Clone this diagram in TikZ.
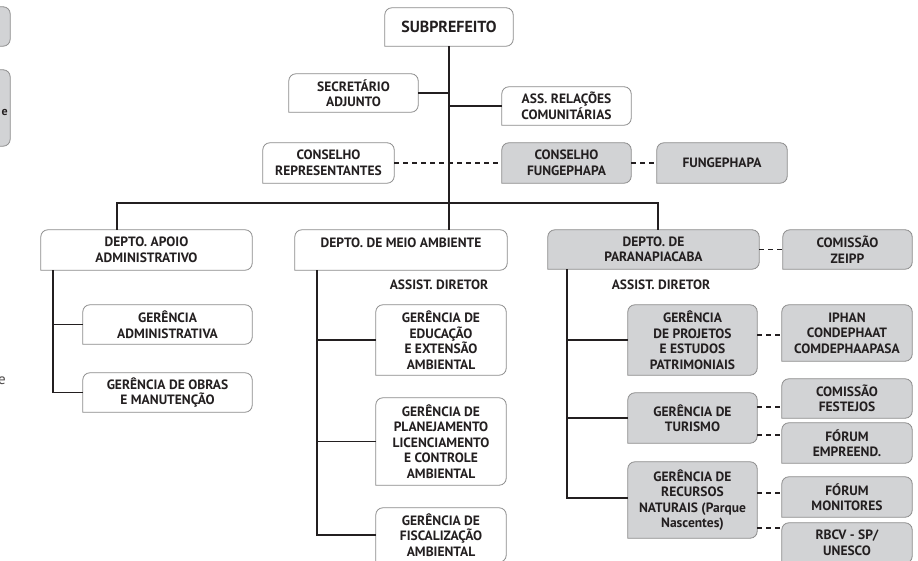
\documentclass[tikz,border=0pt]{standalone}
\usepackage{fontspec}
\setmainfont{PT Sans}
\usetikzlibrary{backgrounds}
\definecolor{textc}{HTML}{231F20}
\definecolor{boxline}{HTML}{8A8A8A}
\definecolor{grayfill}{HTML}{D2D3D5}
\def\rr{7pt}
\newcommand\orgbox[2]{%
  \path[draw=boxline, line width=0.8pt, fill=#2]
   (#1.south west) -- ([yshift=-\rr]#1.north west)
   arc[start angle=180,end angle=90,radius=\rr]
   -- ([xshift=-\rr]#1.north east)
   arc[start angle=90,end angle=0,radius=\rr]
   -- ([yshift=\rr]#1.south east)
   arc[start angle=0,end angle=-90,radius=\rr] -- cycle;}
\begin{document}
\begin{tikzpicture}[x=1pt,y=-1pt,
  bx/.style={font=\bfseries\fontsize{13.5}{15.5}\selectfont, align=center, inner sep=0pt, text=textc},
  conn/.style={draw=textc, line width=1.6pt},
  dsh/.style={draw=textc, line width=1.3pt, dash pattern=on 5pt off 4pt}]
\useasboundingbox (0,0) rectangle (918,561);

% cropped fragments at the left edge
\node[bx, minimum width=60pt, minimum height=39pt] (fragA) at (-20,26.5) {};
\node[bx, minimum width=60pt, minimum height=76pt] (fragB) at (-20,108) {};
\node[bx, anchor=east, font=\bfseries\fontsize{12}{15}\selectfont] (fragBt) at (8,113) {e};
\node[anchor=east, inner sep=0pt, text=textc!80, font=\fontsize{15}{16}\selectfont] (fragC) at (6,381) {e};

% top
\node[bx, minimum width=128pt, minimum height=38pt, font=\bfseries\fontsize{16}{18}\selectfont] (sub) at (449,27) {SUBPREFEITO};
\node[bx, minimum width=129pt, minimum height=38pt] (sec) at (353.5,93) {SECRETÁRIO\\ADJUNTO};
\node[bx, minimum width=129pt, minimum height=38pt] (ass) at (566.5,106) {ASS. RELAÇÕES\\COMUNITÁRIAS};
\node[bx, minimum width=131pt, minimum height=40pt] (crep) at (328.5,163) {CONSELHO\\REPRESENTANTES};
\node[bx, minimum width=129pt, minimum height=40pt] (cfun) at (566.5,163) {CONSELHO\\FUNGEPHAPA};
\node[bx, minimum width=130pt, minimum height=40pt] (fun) at (722,163) {FUNGEPHAPA};

% departments
\node[bx, minimum width=211pt, minimum height=40pt] (dapo) at (146.5,250) {DEPTO. APOIO\\ADMINISTRATIVO};
\node[bx, minimum width=212pt, minimum height=40pt] (dma) at (401,250) {};
\node[bx] (dmat) at (401,243) {DEPTO. DE MEIO AMBIENTE};
\node[bx, minimum width=211pt, minimum height=39pt] (dpar) at (653.5,249.5) {DEPTO. DE\\PARANAPIACABA};
\node[bx, minimum width=129pt, minimum height=39pt] (zeipp) at (847.5,249.5) {COMISSÃO\\ZEIPP};

\node[bx] (ad1) at (439,285) {ASSIST. DIRETOR};
\node[bx] (ad2) at (661,285) {ASSIST. DIRETOR};

% apoio
\node[bx, minimum width=169pt, minimum height=39pt] (gadm) at (167.5,324.5) {GERÊNCIA\\ADMINISTRATIVA};
\node[bx, minimum width=169pt, minimum height=39pt] (gobr) at (167.5,392.5) {GERÊNCIA DE OBRAS\\E MANUTENÇÃO};

% meio ambiente
\node[bx, minimum width=130pt, minimum height=70pt] (gedu) at (441,340) {GERÊNCIA DE\\EDUCAÇÃO\\E EXTENSÃO\\AMBIENTAL};
\node[bx, minimum width=130pt, minimum height=87pt] (gpla) at (441,441.5) {GERÊNCIA DE\\PLANEJAMENTO\\LICENCIAMENTO\\E CONTROLE\\AMBIENTAL};
\node[bx, minimum width=130pt, minimum height=54pt] (gfis) at (441,535) {GERÊNCIA DE\\FISCALIZAÇÃO\\AMBIENTAL};

% paranapiacaba
\node[bx, minimum width=129pt, minimum height=70pt] (gproj) at (692.5,340) {GERÊNCIA\\DE PROJETOS\\E ESTUDOS\\PATRIMONIAIS};
\node[bx, minimum width=129pt, minimum height=50pt] (gtur) at (692.5,418) {GERÊNCIA DE\\TURISMO};
\node[bx, minimum width=129pt, minimum height=76pt] (grec) at (692.5,500) {GERÊNCIA DE\\RECURSOS\\NATURAIS (Parque\\Nascentes)};
\node[bx, minimum width=130pt, minimum height=56pt] (iphan) at (847,333) {IPHAN\\CONDEPHAAT\\COMDEPHAAPASA};
\node[bx, minimum width=130pt, minimum height=39pt] (cfes) at (847,398.5) {COMISSÃO\\FESTEJOS};
\node[bx, minimum width=130pt, minimum height=40pt] (femp) at (847,443) {FÓRUM\\EMPREEND.};
\node[bx, minimum width=130pt, minimum height=40pt] (fmon) at (847,497) {FÓRUM\\MONITORES};
\node[bx, minimum width=130pt, minimum height=40pt] (rbcv) at (847,543) {RBCV - SP/\\UNESCO};

\begin{pgfonlayer}{background}
\foreach \n in {sub,sec,ass,crep,dapo,dma,gadm,gobr,gedu,gpla,gfis} {\orgbox{\n}{white}}
\foreach \n in {fragA,fragB,cfun,fun,dpar,zeipp,gproj,gtur,grec,iphan,cfes,femp,fmon,rbcv} {\orgbox{\n}{grayfill}}

% helper coordinates
\coordinate (busL) at (117,203);
\coordinate (busR) at (658,203);
\coordinate (spA) at (53,270);
\coordinate (spB) at (317,270);
\coordinate (spC) at (567,270);

% solid connectors
\draw[conn] (sub.south) -- (sub.south |- dma.north);
\draw[conn] (sec.east) -- (sec.east -| sub.south);
\draw[conn] (ass.west -| sub.south) -- (ass.west);
\draw[conn] (busL |- dapo.north) -- (busL) -- (busR) -- (busR |- dpar.north);
\draw[conn] (spA |- dapo.south) |- (gobr.west);
\draw[conn] (spA |- gadm.west) -- (gadm.west);
\draw[conn] (spB |- dma.south) |- (gfis.west);
\draw[conn] (spB |- gedu.west) -- (gedu.west);
\draw[conn] (spB |- gpla.west) -- (gpla.west);
\draw[conn] (spC |- dpar.south) |- ([yshift=2pt]grec.west);
\draw[conn] (spC |- gproj.west) -- (gproj.west);
\draw[conn] (spC |- gtur.west) -- (gtur.west);

% dashed connectors
\draw[dsh] (crep.east) -- (cfun.west);
\draw[dsh] (cfun.east) -- (fun.west);
\draw[dsh] (dpar.east) -- (zeipp.west);
\draw[dsh] ([yshift=-2pt]iphan.west -| gproj.east) -- ([yshift=-2pt]iphan.west);
\draw[dsh] ([yshift=11pt]gtur.east) -- ([yshift=11pt]gtur.east -| cfes.west);
\draw[dsh] ([yshift=-17pt]gtur.east) -- ([yshift=-17pt]gtur.east -| femp.west);
\draw[dsh] ([yshift=7pt]grec.east) -- ([yshift=7pt]grec.east -| fmon.west);
\draw[dsh] ([yshift=-28pt]grec.east) -- ([yshift=-28pt]grec.east -| rbcv.west);
\end{pgfonlayer}
\end{tikzpicture}
\end{document}
